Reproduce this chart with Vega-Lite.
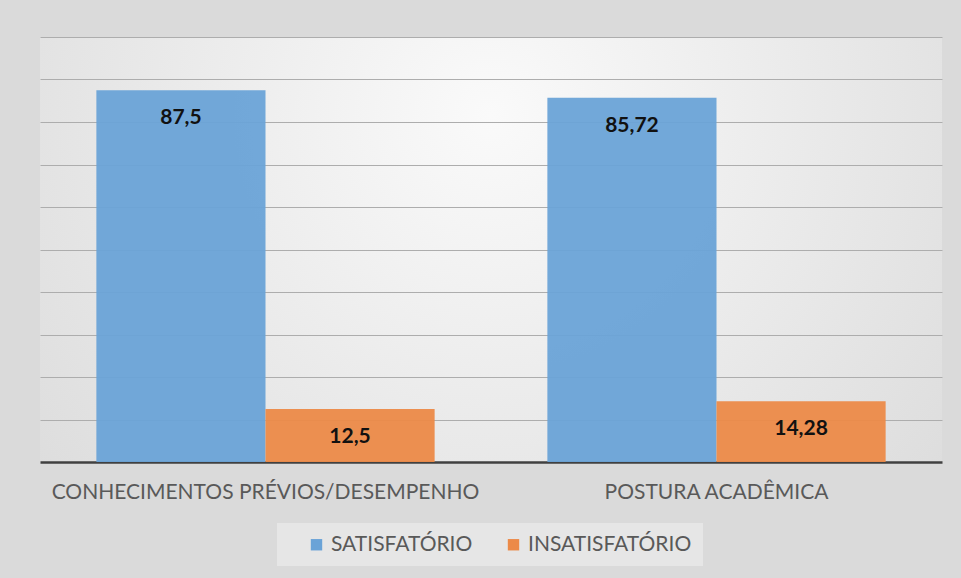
{
  "$schema": "https://vega.github.io/schema/vega-lite/v6.json",
  "autosize": "none",
  "width": 902,
  "height": 425,
  "padding": {"left": 40, "top": 37, "right": 19, "bottom": 116},
  "background": "#dadada",
  "data": {
    "values": [
      {"categoria": "CONHECIMENTOS PRÉVIOS/DESEMPENHO", "serie": "SATISFATÓRIO", "valor": 87.5},
      {"categoria": "CONHECIMENTOS PRÉVIOS/DESEMPENHO", "serie": "INSATISFATÓRIO", "valor": 12.5},
      {"categoria": "POSTURA ACADÊMICA", "serie": "SATISFATÓRIO", "valor": 85.72},
      {"categoria": "POSTURA ACADÊMICA", "serie": "INSATISFATÓRIO", "valor": 14.28}
    ]
  },
  "encoding": {
    "x": {
      "field": "categoria", "type": "nominal", "sort": null,
      "scale": {"paddingInner": 0.25, "paddingOuter": 0.125},
      "axis": {
        "title": null, "labelAngle": 0, "ticks": false,
        "labelFont": "Lato", "labelFontSize": 21, "labelColor": "#595959",
        "labelPadding": 19, "domainColor": "#404040", "domainWidth": 2.5,
        "labelLimit": 0
      }
    },
    "xOffset": {
      "field": "serie", "type": "nominal",
      "sort": ["SATISFATÓRIO", "INSATISFATÓRIO"],
      "scale": {"paddingInner": 0, "paddingOuter": 0}
    },
    "y": {
      "field": "valor", "type": "quantitative",
      "scale": {"domain": [0, 100], "nice": false},
      "axis": {
        "title": null, "labels": false, "ticks": false, "domain": false,
        "values": [10, 20, 30, 40, 50, 60, 70, 80, 90, 100],
        "gridColor": "#adadad", "gridWidth": 1.2
      }
    }
  },
  "layer": [
    {
      "mark": {"type": "bar", "opacity": 0.95},
      "encoding": {
        "color": {
          "field": "serie", "type": "nominal",
          "sort": ["SATISFATÓRIO", "INSATISFATÓRIO"],
          "scale": {"domain": ["SATISFATÓRIO", "INSATISFATÓRIO"], "range": ["#6aa3d7", "#ec8a48"]},
          "legend": {
            "title": null, "orient": "none", "direction": "horizontal",
            "legendX": 237, "legendY": 486,
            "symbolType": "square", "symbolSize": 130, "symbolStrokeWidth": 0,
            "symbolOffset": 18, "labelLimit": 0,
            "labelFont": "Lato", "labelFontSize": 21, "labelColor": "#595959",
            "columnPadding": 12, "padding": 11, "fillColor": "#e6e6e6",
            "symbolOpacity": 1
          }
        }
      }
    },
    {
      "mark": {"type": "text", "font": "Lato", "fontWeight": "bold", "fontSize": 21, "color": "#111111", "baseline": "middle", "dy": 28},
      "encoding": {
        "text": {"field": "valor", "type": "quantitative", "format": ".4~g"}
      }
    }
  ],
  "config": {
    "locale": {"number": {"decimal": ",", "thousands": ".", "grouping": [3], "currency": ["R$", ""]}},
    "view": {
      "stroke": null,
      "fill": {
        "gradient": "radial",
        "x1": 0.5, "y1": 0.35, "x2": 0.5, "y2": 0.35, "r1": 0, "r2": 0.75,
        "stops": [{"offset": 0, "color": "#fafafa"}, {"offset": 1, "color": "#d8d8d8"}]
      }
    }
  }
}
